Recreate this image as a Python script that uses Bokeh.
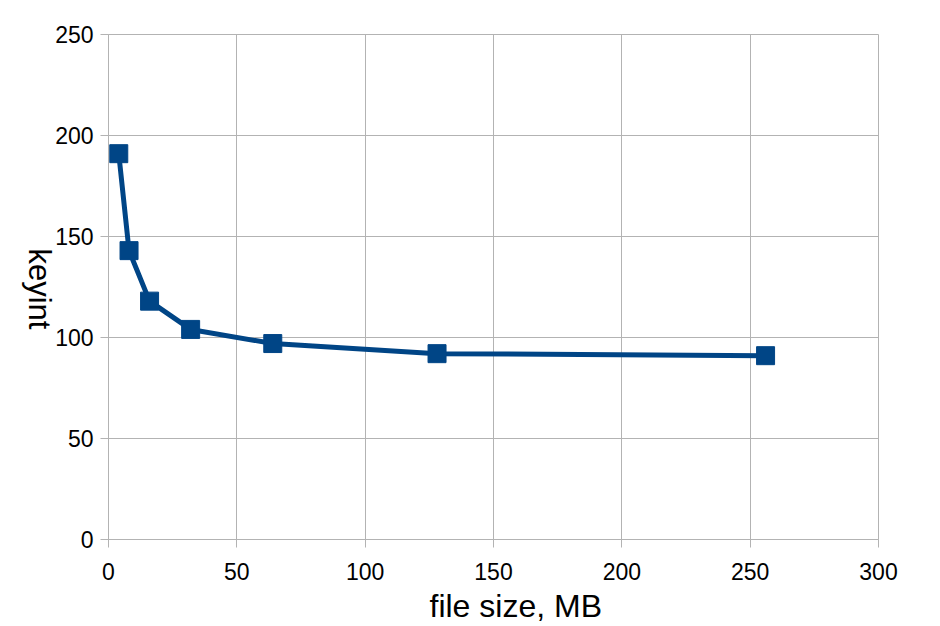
import math
from bokeh.plotting import figure
from bokeh.models import Range1d, FixedTicker, Title, LinearAxis, CustomJSTickFormatter
from bokeh.embed import file_html
from bokeh.resources import INLINE

file_size_mb = [4, 8, 16, 32, 64, 128, 256]
keyint = [191, 143, 118, 104, 97, 92, 91]
x_ticks = [0, 50, 100, 150, 200, 250, 300]
y_ticks = [0, 50, 100, 150, 200, 250]
x_title = "file size, MB"
y_title = "keyint"

COLOR = "#004586"
GRID = "#b3b3b3"
FONT = "Liberation Sans"
Y_TITLE_END = 104  # y value at which the downward-reading y title ends

p = figure(width=920, height=626, output_backend="svg", toolbar_location=None,
           x_range=Range1d(0, 300), y_range=Range1d(0, 250),
           min_border_left=108, min_border_right=42, min_border_top=34, min_border_bottom=87)

p.line(file_size_mb, keyint, line_color=COLOR, line_width=5)
p.scatter(file_size_mb, keyint, marker="square", size=18, fill_color=COLOR, line_color=COLOR)

p.outline_line_color = GRID
p.outline_line_width = 1

for ax, ticks in ((p.xaxis[0], x_ticks), (p.yaxis[0], y_ticks)):
    ax.ticker = FixedTicker(ticks=ticks)
    ax.axis_line_color = GRID
    ax.major_tick_line_color = GRID
    ax.major_tick_out = 8
    ax.major_tick_in = 0
    ax.minor_tick_line_color = None
    ax.major_label_text_font = FONT
    ax.major_label_text_font_size = "23px"
    ax.major_label_text_color = "black"

p.xaxis.major_label_standoff = 15
p.yaxis.major_label_standoff = 7

# y title reads downwards in the original: drawn as the single rotated label of a bare extra axis
title_axis = LinearAxis(ticker=FixedTicker(ticks=[Y_TITLE_END]),
                        formatter=CustomJSTickFormatter(args=dict(label=y_title), code="return label"),
                        major_label_orientation=-math.pi / 2,
                        axis_line_color=None, major_tick_line_color=None, minor_tick_line_color=None,
                        major_tick_out=0, major_tick_in=0, major_label_standoff=13,
                        major_label_text_font=FONT, major_label_text_font_size="31px",
                        major_label_text_color="black")
p.add_layout(title_axis, "left")

# x title sits a little right of the plot centre in the original
p.add_layout(Title(text=x_title, align="left", offset=321, text_font=FONT, text_font_size="32px",
                   text_font_style="normal", text_color="black", standoff=6), "below")

p.xgrid.grid_line_color = GRID
p.ygrid.grid_line_color = GRID
p.xgrid.ticker = FixedTicker(ticks=x_ticks)
p.ygrid.ticker = FixedTicker(ticks=y_ticks)

open("out.html", "w").write(file_html(p, INLINE))
